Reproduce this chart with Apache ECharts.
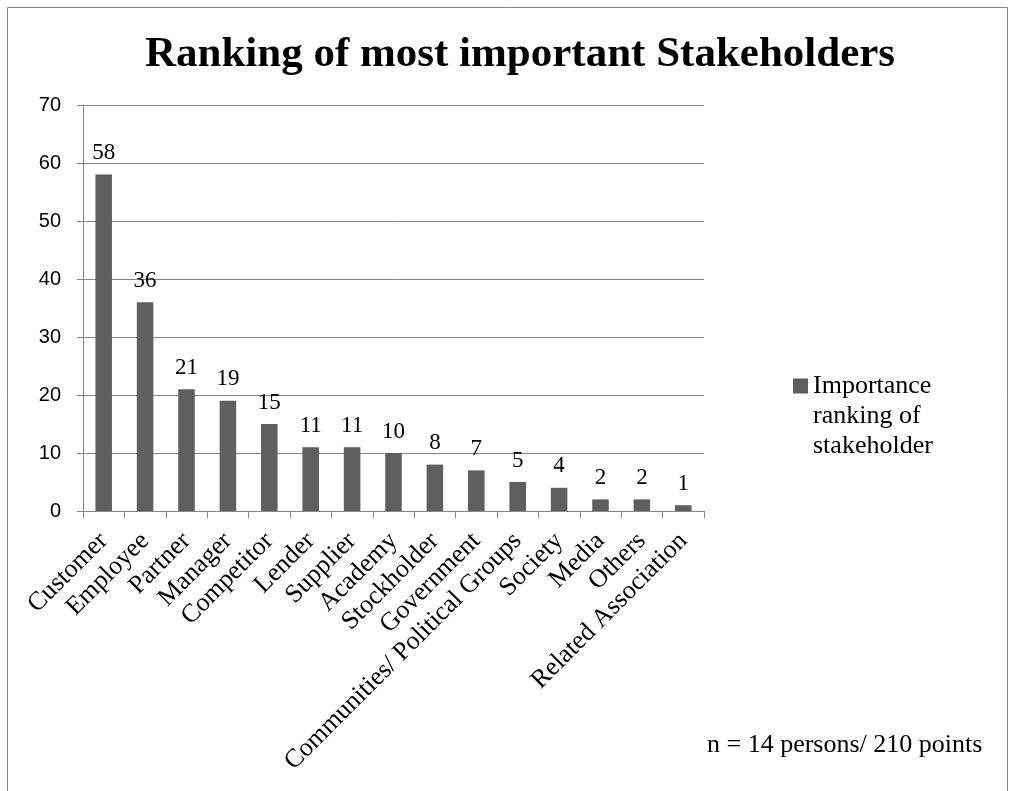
<!DOCTYPE html>
<html>
<head>
<meta charset="utf-8">
<script src="https://cdn.jsdelivr.net/npm/echarts@6/dist/echarts.min.js"></script>
<style>
html,body{margin:0;padding:0;background:#fff;}
#chart{width:1010px;height:791px;}
</style>
</head>
<body>
<div id="chart"></div>
<script>
var categories = ['Customer','Employee','Partner','Manager','Competitor','Lender','Supplier','Academy','Stockholder','Government','Communities/ Political Groups','Society','Media','Others','Related Association'];
var values = [58,36,21,19,15,11,11,10,8,7,5,4,2,2,1];
var seriesName = 'Importance\nranking of\nstakeholder';
var yTicks = {min:0, max:70, interval:10};
var titleText = 'Ranking of most important Stakeholders';
var noteText = 'n = 14 persons/ 210 points';

var serif = '"Liberation Serif", "Times New Roman", serif';
var chart = echarts.init(document.getElementById('chart'));
chart.setOption({
  animation:false,
  backgroundColor:'#fff',
  title:{
    text:titleText,
    left:515, top:28, textAlign:'center',
    textStyle:{fontFamily:serif, fontWeight:'bold', fontSize:43, color:'#000'}
  },
  legend:{
    left:788, top:306,
    orient:'vertical',
    itemWidth:15, itemHeight:15, itemGap:5,
    icon:'rect',
    formatter:function(name){ return '\n\n' + name; },
    textStyle:{fontFamily:serif, fontSize:26, color:'#000', lineHeight:30},
    data:[seriesName]
  },
  grid:{left:83, right:306, top:105, bottom:280, containLabel:false},
  xAxis:{
    type:'category',
    data:categories,
    boundaryGap:true,
    axisLine:{lineStyle:{color:'#868686', width:1}},
    axisTick:{show:true, interval:0, length:7, lineStyle:{color:'#868686'}},
    axisLabel:{interval:0, rotate:45, margin:26, fontFamily:serif, fontSize:26, color:'#000'}
  },
  yAxis:{
    type:'value',
    min:yTicks.min, max:yTicks.max, interval:yTicks.interval,
    axisLine:{show:true, lineStyle:{color:'#868686', width:1}},
    axisTick:{show:true, length:6, lineStyle:{color:'#868686'}},
    splitLine:{show:true, lineStyle:{color:'#868686', width:1}},
    axisLabel:{margin:22, fontFamily:'"Liberation Sans", Arial, sans-serif', fontSize:20, color:'#000'}
  },
  series:[{
    name:seriesName,
    type:'bar',
    data:values,
    barWidth:'40%',
    itemStyle:{color:'#5f5f5f'},
    label:{show:true, position:'top', distance:10, fontFamily:serif, fontSize:23, color:'#000'}
  }],
  graphic:[
    {type:'polyline', shape:{points:[[7.5,791],[7.5,7.5],[1007.5,7.5],[1007.5,791]]}, style:{stroke:'#868686', lineWidth:1, fill:null}},
    {type:'text', left:707, top:732, style:{text:noteText, fontFamily:serif, fontSize:26, fill:'#000'}}
  ]
});
</script>
</body>
</html>
